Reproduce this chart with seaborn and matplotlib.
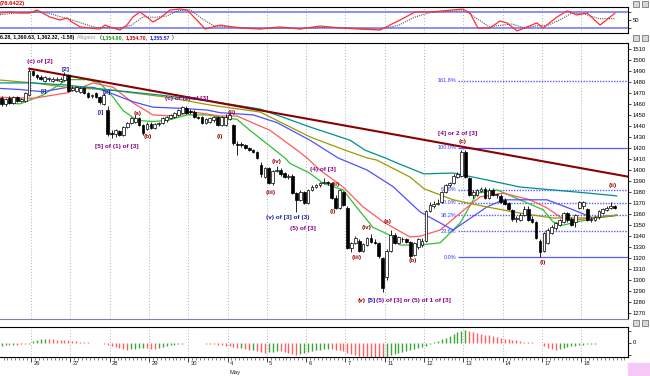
import numpy as np
import pandas as pd
import matplotlib
matplotlib.use("Agg")
import matplotlib.pyplot as plt
import matplotlib.patches as mpatches
import seaborn as sns

sns.set_theme(style="white")
plt.rcParams['font.family'] = ['Liberation Sans', 'DejaVu Sans']

# ---------------- data ----------------
first_bar = -8
opens = [1465, 1460, 1465, 1461, 1466, 1463, 1463, 1468,
         1490, 1486, 1484.5, 1481, 1482.5, 1481, 1482, 1481, 1482, 1486,
         1473, 1472, 1471, 1474, 1470, 1467, 1470, 1466, 1460, 1454,
         1434, 1433, 1435, 1432, 1439, 1443, 1444, 1447, 1441, 1437,
         1442, 1438, 1442, 1443, 1445, 1447, 1448, 1450, 1452, 1456,
         1453, 1453, 1448, 1448, 1443, 1444, 1445, 1448, 1441, 1441,
         1446, 1441, 1424, 1423, 1423, 1420, 1418, 1416, 1405, 1394,
         1402, 1388, 1399, 1400, 1397, 1394, 1395, 1379, 1373, 1380,
         1370, 1382, 1385, 1386, 1388, 1389, 1388, 1375, 1366, 1380,
         1366, 1329, 1334, 1336, 1327, 1332, 1338, 1335, 1334, 1320,
         1303, 1327, 1341, 1334, 1337, 1337, 1335, 1323, 1330, 1332,
         1336, 1363, 1367, 1369, 1371, 1380, 1386, 1388, 1394, 1395,
         1416, 1393, 1377, 1377, 1381, 1383, 1375, 1382, 1377, 1376,
         1373, 1370, 1364, 1356, 1355, 1359, 1365, 1356, 1353, 1336,
         1327, 1334, 1343, 1347, 1350, 1353, 1361, 1356, 1353, 1366,
         1367, 1365, 1355, 1355, 1357, 1361, 1364, 1366, 1367]
highs = [1467, 1465, 1467, 1467, 1467, 1465, 1471, 1492,
         1491, 1487, 1486, 1485, 1484, 1484, 1484, 1484, 1489, 1487,
         1476, 1476, 1475, 1475, 1471, 1469, 1471, 1467, 1470, 1458,
         1436, 1437, 1436, 1440, 1444, 1448, 1450, 1448, 1442, 1444,
         1444, 1443, 1444, 1448, 1449, 1451, 1453, 1455, 1458, 1458,
         1455, 1454, 1449, 1449, 1447, 1448, 1449, 1449, 1449, 1451,
         1452, 1442, 1426, 1425, 1424, 1421, 1419, 1417, 1407, 1403,
         1403, 1400, 1404, 1402, 1398, 1396, 1396, 1380, 1382, 1381,
         1383, 1386, 1387, 1389, 1393, 1390, 1389, 1377, 1383, 1381,
         1367, 1335, 1340, 1337, 1334, 1339, 1342, 1337, 1335, 1321,
         1328, 1346, 1343, 1340, 1339, 1338, 1336, 1335, 1338, 1338,
         1364, 1371, 1372, 1374, 1381, 1387, 1389, 1396, 1398, 1418,
         1418, 1394, 1382, 1383, 1385, 1385, 1384, 1384, 1379, 1378,
         1375, 1371, 1365, 1358, 1361, 1367, 1367, 1358, 1354, 1337,
         1344, 1347, 1350, 1353, 1356, 1362, 1362, 1357, 1360, 1372,
         1372, 1366, 1357, 1358, 1364, 1366, 1367, 1371, 1368]
lows = [1458, 1458, 1460, 1460, 1462, 1462, 1462, 1467,
        1485, 1483, 1482, 1480, 1481, 1480, 1481, 1480, 1481, 1471,
        1472, 1471, 1470, 1469, 1465, 1465, 1465, 1460, 1459, 1431,
        1429, 1430, 1431, 1431, 1438, 1442, 1443, 1440, 1432, 1436,
        1437, 1437, 1440, 1442, 1444, 1446, 1447, 1449, 1451, 1451,
        1451, 1447, 1446, 1442, 1442, 1443, 1444, 1440, 1440, 1440,
        1445, 1423, 1414, 1421, 1419, 1417, 1415, 1410, 1394, 1393,
        1387, 1386, 1398, 1395, 1393, 1392, 1378, 1362, 1372, 1369,
        1369, 1381, 1384, 1385, 1387, 1386, 1374, 1365, 1365, 1367,
        1328, 1326, 1333, 1326, 1326, 1331, 1334, 1333, 1320, 1289,
        1300, 1326, 1333, 1333, 1335, 1334, 1320, 1322, 1328, 1330,
        1335, 1362, 1366, 1368, 1370, 1379, 1385, 1387, 1393, 1394,
        1393, 1376, 1375, 1376, 1380, 1374, 1374, 1376, 1375, 1370,
        1368, 1364, 1354, 1353, 1354, 1358, 1354, 1352, 1337, 1321,
        1326, 1333, 1342, 1346, 1349, 1352, 1353, 1349, 1348, 1365,
        1365, 1354, 1353, 1354, 1356, 1360, 1363, 1365, 1365]
closes = [1460, 1464, 1461, 1466, 1463, 1464, 1470, 1490,
          1486, 1484, 1483, 1484, 1482.5, 1483, 1482, 1483, 1486, 1472,
          1474, 1475, 1474, 1470, 1466, 1467.5, 1466, 1462, 1468, 1433,
          1433, 1436, 1432, 1439, 1443, 1447, 1447, 1441, 1434, 1442,
          1438, 1442, 1442.5, 1447, 1448, 1450, 1452, 1454, 1457, 1452,
          1452.5, 1448, 1447.5, 1443, 1446, 1447, 1448, 1441, 1448, 1448,
          1450, 1424.5, 1423, 1422.5, 1420, 1418, 1416, 1411, 1396, 1402,
          1388, 1399, 1400, 1396, 1394, 1395, 1379, 1373, 1380, 1370,
          1382, 1385, 1386, 1388, 1389, 1388, 1375, 1366, 1382, 1368,
          1329, 1334, 1338, 1327, 1333, 1338, 1335, 1334, 1322, 1293,
          1327, 1341, 1334, 1339, 1337, 1335, 1322, 1334, 1337, 1336,
          1363, 1368, 1369.5, 1370, 1380, 1386, 1388, 1395, 1396, 1416,
          1394, 1377, 1380, 1382, 1383, 1375, 1382, 1377, 1378, 1371,
          1369, 1365, 1356, 1356.5, 1359, 1365, 1355, 1353, 1338, 1326,
          1343, 1346, 1348, 1352, 1355, 1361, 1355, 1350, 1359, 1371,
          1371, 1355, 1355.5, 1357, 1363, 1365, 1366, 1367, 1366]

# moving averages (bar position, price)
ma_green_x = [-8.4, -3.3, 2.5, 8.7, 13.7, 17, 20.4, 22.9, 26.5, 30.5, 34.1, 39.2, 44.3, 47.6, 51.9,
              55.2, 61.6, 64.1, 65.4, 70.5, 73.8, 78.9, 82.4, 86.5, 90.8, 93.4, 98.5, 103.6, 108.7,
              113, 118.1, 123.9, 129.8, 132.3, 134.9, 138.4, 143.5, 148.6]
ma_green_y = [1461, 1460, 1468, 1482, 1482, 1479, 1466, 1454, 1445, 1444, 1445, 1450, 1450, 1448, 1446,
              1436, 1418, 1411, 1406, 1397, 1388, 1382, 1366, 1348, 1341, 1332, 1332, 1334, 1352,
              1379, 1382, 1373, 1364, 1353, 1350, 1353, 1356.5, 1359]
ma_red_x = [-8.4, 0, 8.7, 15.3, 20.4, 25.4, 30.5, 35.6, 40.7, 47.6, 51.9, 60.3, 67.2, 69.7, 73,
            78.9, 84, 89.1, 95.9, 98.5, 103.6, 108.7, 113.7, 119.6, 126.5, 130.8, 134.1, 138.4,
            143.5, 148.6]
ma_red_y = [1466, 1465, 1470, 1479, 1475, 1461, 1450, 1449, 1452.6, 1449, 1449, 1436, 1418, 1411, 1400,
            1384.6, 1366.5, 1353, 1339.3, 1340, 1345.6, 1361, 1375.6, 1379, 1373, 1365.6, 1357.5,
            1354.7, 1357.5, 1359]
ma_blue_x = [-8.4, -3.3, 2.5, 8.7, 15.3, 19.6, 25.4, 30.5, 37.4, 44.3, 47.6, 56, 62.1, 70.5, 77.6,
             85, 91.6, 98.5, 106.9, 115.5, 119.6, 123.9, 130.8, 137.4, 142.5, 148.6]
ma_blue_y = [1474, 1473, 1471, 1475, 1475, 1470, 1462, 1457, 1456, 1454.4, 1452, 1450, 1443, 1427, 1411,
             1400, 1385, 1362, 1345.6, 1366.5, 1373, 1373, 1373, 1364, 1356.5, 1359]
ma_olive_x = [-8.4, 0, 8.7, 19.6, 34.1, 45, 57.8, 70.5, 79.4, 85, 87.5, 95.9, 99.5, 106.9, 115.5,
              123.9, 132.3, 140.9, 148.6]
ma_olive_y = [1481.6, 1479, 1475, 1472.6, 1466, 1459, 1452.6, 1430, 1418, 1411, 1409, 1393.7, 1383,
              1373, 1366.5, 1361, 1356.5, 1356.5, 1359]
ma_teal_x = [-8.4, 0, 8.7, 19.6, 32.3, 45, 57.8, 70.5, 80.7, 84.5, 89.6, 92.6, 99.5, 106.9, 115.5,
             123.9, 132.3, 140.9, 148.6]
ma_teal_y = [1479, 1479, 1477, 1472.6, 1468, 1462.6, 1455.3, 1439, 1427, 1418, 1411, 1406.4, 1396.5,
             1397.3, 1391, 1384.6, 1381.9, 1379.2, 1376.5]

trend_x = [-1, 151.4]
trend_y = [1492, 1394]

fib_low, fib_high = 1321, 1420
fib_ratios = [1.618, 1.0, 0.618, 0.5, 0.382, 0.236, 0.0]
fib_labels = ["161.8%", "100.0%", "61.8%", "50.0%", "38.2%", "23.6%", "0.0%"]
fib_start = 108.1

# stochastic
stoch_k_x = [-8.4, -5.9, -3.3, -0.8, 1, 2.5, 4.3, 6.9, 8.7, 9.9, 12, 14.5, 17, 18.3, 19.6, 22.1,
             23.9, 25.4, 27.2, 29, 30.5, 32.3, 34.9, 37.4, 39.2, 41.7, 43.8, 45.8, 47.6, 52.7,
             57.8, 62.8, 67.9, 73, 78.1, 83.2, 88.3, 93.4, 97.2, 101, 109.4, 111.2, 113.2, 116.3,
             118.8, 120.6, 123.2, 125.7, 128.2, 129.8, 133.3, 135.9, 138.4, 141, 144.3, 148.1]
stoch_k_y = [76, 80, 76, 76, 87.5, 76, 61, 50, 57.5, 42.5, 24, 20, 16, 31, 24, 12.5,
             31, 61, 80, 61, 42.5, 57.5, 87.5, 91, 87.5, 50, 16, 24, 31, 20,
             16, 24, 16, 27.5, 20, 16, 12.5, 50, 80, 80, 91, 76, 20, 20,
             46, 39, 9, 24, 39, 20, 61, 84, 69, 76, 31, 76]
stoch_d_x = [-8.4, -3, 1, 4, 7, 10, 13, 16, 19, 22, 25, 28, 31, 34, 37, 40, 43, 46, 49, 53, 58,
             63, 68, 73, 78, 83, 88, 93, 97, 101, 105, 110, 113, 116, 119, 122, 125, 128, 131,
             134, 137, 140, 144, 148]
stoch_d_y = [70, 78, 80, 75, 62, 50, 35, 22, 22, 20, 30, 62, 60, 65, 85, 88, 55, 28, 25, 22, 18,
             20, 18, 22, 22, 18, 15, 30, 60, 78, 82, 85, 55, 25, 30, 35, 20, 28, 30,
             50, 75, 74, 55, 55]

# oscillator histogram, one value per bar
osc = [-3, -2.5, -2.5, -2, -2, -1.5, -1.5, -1,
       2, 3, 3.5, 4, 3.5, 3.5, 3, 3, 2.5, 2.5,
       2, 1.5, 1, 0.5, 0.2, -0.2, -0.5, -0.8, -1.2, -2,
       -3, -4, -5, -6, -7, -6.5, -6, -5.5, -5, -5.5,
       -6, -6.2, -5.5, -4.5, -3.5, -2.5, -2, -1.5, -1, -0.5,
       -0.3, -0.5, -0.7, -0.8, -1, -1.2, -1.5, -2, -2.5, -3,
       -3.5, -4.5, -5.5, -5, -6.5, -7.5, -7, -8, -9, -10,
       -9.5, -9, -8, -8.5, -9, -10, -11, -12, -11, -10,
       -9, -8, -7.5, -7, -6.5, -6, -6.5, -7, -7.5, -8,
       -10, -11, -12, -13, -13.5, -14, -14.5, -15, -15.5, -16,
       -14, -12.5, -11, -10, -9, -8, -7, -6, -5, -4,
       -3, -1.5, 1, 2, 4, 5, 7, 9, 10.5, 12,
       12.5, 12, 11, 10, 9, 8, 7.5, 7, 6, 5,
       4, 3.5, 3, 2.5, 1.5, 1, 0.5, 0.3, 0, -0.5,
       -3, -5, -6, -7, -6.5, -5.5, -4.5, -3.5, -3, -2.5,
       -2, -1.5, -1.2, -1, -0.8, -0.6, -0.5, -0.4, -0.3]

day_labels = ["26", "27", "28", "29", "30", "4", "5", "6", "7", "11", "12", "13", "14", "17", "18"]

# wave labels: (text, bar position, price, colour)
PURPLE, BLUE, DRED = "#8b008b", "#1a1aa6", "#990000"
wave_labels = [
    ("(c) of [2]", 1.8, 1498, PURPLE), ("[2]", 8.4, 1491, BLUE), ("[i]", 2.8, 1471.6, BLUE),
    ("[ii]", 18.8, 1470, BLUE), ("[i]", 17.3, 1452.6, BLUE),
    ("[5] of (1) of [3]", 21.4, 1421, PURPLE), ("(a)", 26.5, 1451.7, DRED), ("(b)", 29.3, 1430, DRED),
    ("(c) of (2) of [3]", 39.2, 1465.3, PURPLE), ("(i)", 47.6, 1430, DRED), ("(ii)", 50.6, 1452.6, DRED),
    ("(iv)", 62.1, 1407.3, DRED), ("(iii)", 60.6, 1379.2, DRED), ("(v) of [3] of (3)", 64.9, 1356.5, BLUE),
    ("(5) of [3]", 68.7, 1347.4, PURPLE), ("(4) of [3]", 73.8, 1400.9, PURPLE), ("(ii)", 77.1, 1387.3, DRED),
    ("(i)", 76.3, 1362, DRED), ("(iii)", 82.4, 1320.3, DRED), ("(iv)", 85, 1348.3, DRED),
    ("(a)", 90.3, 1352.9, DRED), ("(b)", 96.7, 1318.4, DRED), ("[4] or 2 of [3]", 108.1, 1432.7, PURPLE),
    ("(c)", 109.2, 1426.3, DRED), ("(i)", 129.8, 1315.7, DRED), ("(ii)", 147.6, 1386.4, DRED),
]

# ---------------- layout ----------------
W, H = 650, 376
def rect(x0, y0, x1, y1):
    return [x0 / W, 1 - y1 / H, (x1 - x0) / W, (y1 - y0) / H]

fig = plt.figure(figsize=(W / 100, H / 100), dpi=100)
fig.patch.set_facecolor("white")
ax_top = fig.add_axes(rect(0, 7, 628, 33))
ax = fig.add_axes(rect(0, 43, 628, 319))
ax_osc = fig.add_axes(rect(0, 327, 628, 357))

XL = (-8.4, 151.4)
bars = np.arange(first_bar, first_bar + len(opens))
day_edges = [10 * k - 0.5 for k in range(len(day_labels))]

for a in (ax_top, ax, ax_osc):
    a.set_facecolor("white")
    a.set_xlim(*XL)
    a.set_xticks([])
    for e in day_edges:
        a.axvline(e, color="#b4b4b4", lw=0.7, ls=(0, (1, 2)), zorder=0)
    a.spines["left"].set_visible(False)
    for s in ("top", "bottom", "right"):
        a.spines[s].set_color("black")
        a.spines[s].set_linewidth(0.8)
    a.yaxis.tick_right()
    a.tick_params(axis="y", which="both", direction="out", length=2, width=0.5,
                  labelsize=4.2, pad=1.5, colors="black", right=True)

# ---------------- stochastic panel ----------------
ax_top.set_ylim(1.25, 98.75)
ax_top.axhline(80, color="#8c8cff", lw=1.4, zorder=1)
ax_top.axhline(20, color="#8c8cff", lw=1.4, zorder=1)
sns.lineplot(x=stoch_d_x, y=stoch_d_y, ax=ax_top, color="#555555", lw=0.8, ls=(0, (1, 1)),
             estimator=None, legend=False)
sns.lineplot(x=stoch_k_x, y=stoch_k_y, ax=ax_top, color="#ff3030", lw=0.9,
             estimator=None, legend=False)
ax_top.set_yticks([20, 50, 80], labels=["", "50", ""])
ax_top.set_xlabel("")
ax_top.set_ylabel("")

# ---------------- price panel ----------------
ax.set_ylim(1264.9, 1515.2)
ax.set_yticks(np.arange(1270, 1511, 10))
ax.spines["bottom"].set_color("#7f7f9f")

ma_frames = []
for name, xs, ys in [("green", ma_green_x, ma_green_y), ("red", ma_red_x, ma_red_y),
                     ("blue", ma_blue_x, ma_blue_y), ("olive", ma_olive_x, ma_olive_y),
                     ("teal", ma_teal_x, ma_teal_y)]:
    ma_frames.append(pd.DataFrame({"bar": xs, "price": ys, "line": name}))
ma_df = pd.concat(ma_frames, ignore_index=True)
palette = {"green": "#2fc02f", "red": "#ff5a5a", "blue": "#4f4fff", "olive": "#9a9a00", "teal": "#008f8f"}
sns.lineplot(data=ma_df, x="bar", y="price", hue="line", palette=palette, ax=ax, lw=0.9,
             estimator=None, sort=False, legend=False, zorder=2)

ax.plot(trend_x, trend_y, color="#8b0000", lw=1.5, zorder=2)

for r, lab in zip(fib_ratios, fib_labels):
    lvl = fib_low + r * (fib_high - fib_low)
    solid = lab in ("100.0%", "0.0%")
    ax.hlines(lvl, fib_start, XL[1], color="#5a5aff", lw=0.9 if solid else 1.0,
              ls="-" if solid else (0, (1, 1)), zorder=1)
    ax.text(fib_start - 0.4, lvl, lab, color="#3a3aff", fontsize=4, ha="right", va="center")

# candles
up = np.array(closes) >= np.array(opens)
ax.vlines(bars, lows, highs, color="black", lw=0.6, zorder=3)
body_lo = np.minimum(opens, closes)
body_h = np.maximum(np.abs(np.array(closes) - np.array(opens)), 0.7)
ax.bar(bars, body_h, bottom=body_lo, width=0.7, color=np.where(up, "white", "black"),
       edgecolor="black", linewidth=0.5, zorder=4)

for txt, bx, py, col in wave_labels:
    ax.text(bx, py, txt, color=col, fontsize=4.6, fontweight="bold", ha="center", va="center", zorder=5)

# multi-coloured bottom label
ax.text(82.7, 1281.3, "(v)", color=DRED, fontsize=4.6, fontweight="bold", ha="left", va="center")
ax.text(85.2, 1281.3, "[5]", color=BLUE, fontsize=4.6, fontweight="bold", ha="left", va="center")
ax.text(87.2, 1281.3, "(5) of [3] or (5) of 1 of [3]", color=PURPLE, fontsize=4.6,
        fontweight="bold", ha="left", va="center")
ax.set_xlabel("")
ax.set_ylabel("")

# ---------------- oscillator panel ----------------
ax_osc.set_ylim(-14.5, 15.5)
osc_arr = np.array(osc)
rising = np.concatenate([[True], osc_arr[1:] > osc_arr[:-1]])
ax_osc.vlines(bars, 0, osc_arr, colors=np.where(rising, "#3aa63a", "#ff5f5f"), lw=1.0, zorder=2)
ax_osc.set_yticks([-12, 0, 12], labels=["", "0", ""])
ax_osc.set_xticks(day_edges)
ax_osc.set_xticks(np.arange(-8.5, 151, 1), minor=True)
ax_osc.set_xticklabels([])
ax_osc.tick_params(axis="x", which="major", bottom=True, direction="out", length=3.5, width=0.6)
ax_osc.tick_params(axis="x", which="minor", bottom=True, direction="out", length=2, width=0.4)
ax_osc.set_xlim(*XL)
for e, lab in zip(day_edges, day_labels):
    ax_osc.text(e + 0.6, -0.13, lab, transform=ax_osc.get_xaxis_transform(), fontsize=4.2,
                ha="left", va="top")
ax_osc.text(day_edges[5] + 0.6, -0.42, "May", transform=ax_osc.get_xaxis_transform(),
            fontsize=4.2, ha="left", va="top")

# ---------------- header texts ----------------
fig.text(0 / W, 1 - 3 / H, "(76.6422)", color="#dd0000", fontsize=4.2, fontweight="bold", va="center")
hy = 1 - 38 / H
hfs = 3.8
fig.text(74 / W, hy, "6.28, 1,360.63, 1,362.32, -1.58)", color="black", fontsize=hfs,
         fontweight="bold", va="center", ha="right")
fig.text(77 / W, hy, "Alligator", color="#9a9a9a", fontsize=hfs, va="center")
fig.text(99.5 / W, hy, "(", color="black", fontsize=hfs, va="center")
fig.text(101.5 / W, hy, "1,354.90,", color="#1a9a1a", fontsize=hfs, fontweight="bold", va="center")
fig.text(126 / W, hy, "1,354.70,", color="#dd0000", fontsize=hfs, fontweight="bold", va="center")
fig.text(150 / W, hy, "1,355.57", color="#2020dd", fontsize=hfs, fontweight="bold", va="center")
fig.text(172 / W, hy, ")", color="black", fontsize=hfs, va="center")

# small window buttons at the right edge
for bx, by in [(633, 1), (642, 1), (633, 35), (642, 35), (633, 320), (642, 320)]:
    fig.patches.append(mpatches.Rectangle((bx / W, 1 - (by + 6) / H), 6 / W, 6 / H,
                                          transform=fig.transFigure, facecolor="#d8d8d8",
                                          edgecolor="#606060", lw=0.5))
fig.patches.append(mpatches.Rectangle((628 / W, 0), 22 / W, 13 / H, transform=fig.transFigure,
                                      color="#f6c8f6", zorder=0))

fig.savefig("out.png", dpi=100, facecolor="white")
